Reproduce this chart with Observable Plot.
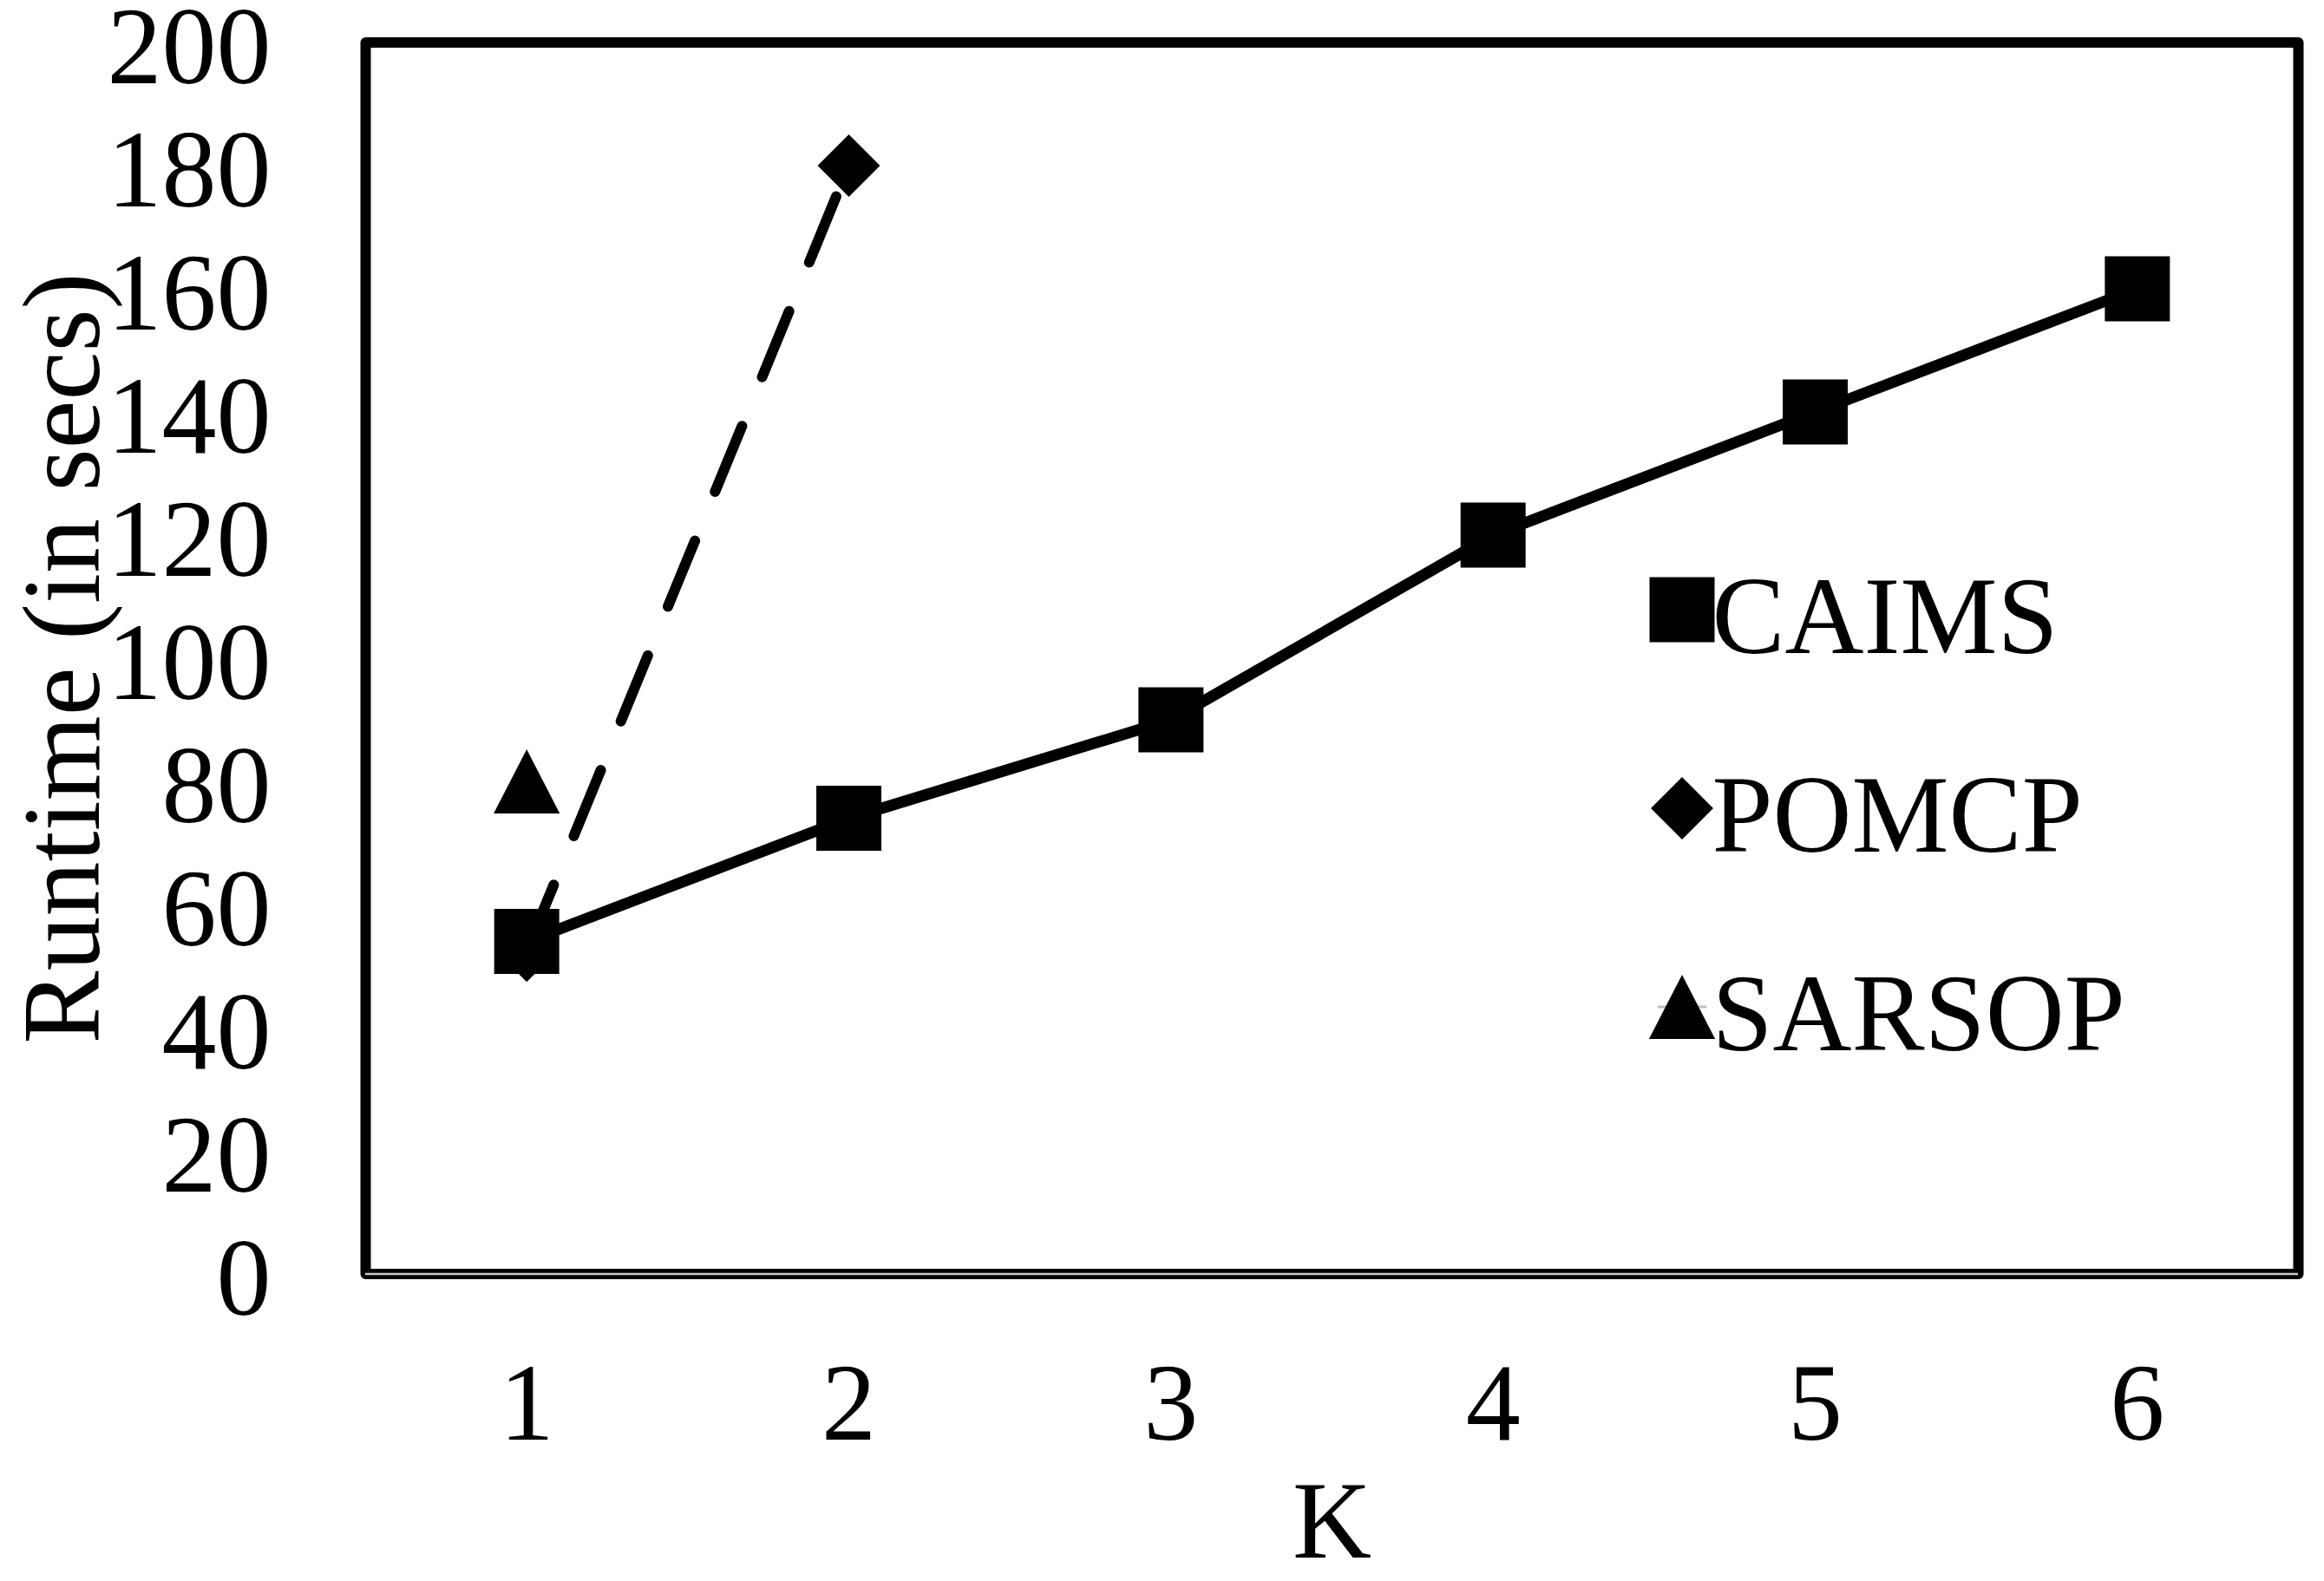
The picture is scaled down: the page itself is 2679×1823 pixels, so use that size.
<!DOCTYPE html>
<html>
<head>
<meta charset="utf-8">
<script src="https://cdn.jsdelivr.net/npm/d3@7"></script>
<script src="https://cdn.jsdelivr.net/npm/@observablehq/plot@0.6"></script>
<style>
  html, body { margin: 0; padding: 0; background: #ffffff; }
  #chart svg { display: block; }
</style>
</head>
<body>
<div id="chart"></div>
<script>
// ---- data ----
const kValues = [1, 2, 3, 4, 5, 6];
const caimsRuntime = [54, 74, 90, 120, 140, 160];
const pomcpK = [1, 2];
const pomcpRuntime = [52.5, 180];
const sarsopK = [1];
const sarsopRuntime = [80];
const yTicks = [0, 20, 40, 60, 80, 100, 120, 140, 160, 180, 200];
const seriesNames = ["CAIMS", "POMCP", "SARSOP"];
const xTitle = "K";
const yTitle = "Runtime (in secs)";

// tables built from the arrays
const caimsData = kValues.map((k, i) => ({k, v: caimsRuntime[i]}));
const pomcpData = pomcpK.map((k, i) => ({k, v: pomcpRuntime[i]}));
const sarsopData = sarsopK.map((k, i) => ({k, v: sarsopRuntime[i]}));

// custom symbols
const triangleSym = {
  draw(ctx, size) {
    const r = Math.sqrt(size / Math.PI);
    ctx.moveTo(0, -r);
    ctx.lineTo(r * 1.03, r);
    ctx.lineTo(-r * 1.03, r);
    ctx.closePath();
  }
};
const hlineSym = {
  draw(ctx, size) {
    const r = Math.sqrt(size / Math.PI);
    ctx.moveTo(-r, 0);
    ctx.lineTo(r, 0);
  }
};

const FONT = "'Liberation Serif', 'Times New Roman', Times, serif";
const FS = 126;

const W = 2679, H = 1823;
const mL = 421, mR = 30, mT = 48.5, mB = 354.5;

const legendSymbols = [
  {symbol: "square", r: 42.3},
  {symbol: "diamond2", r: 32.4},
  {symbol: triangleSym, r: 37}
];
const legMarkDx = 1517.5, legMarkDy = 654, legTextDx = 1552, legTextDy = 703.5, legStep = 229;

const legendMarks = [];
seriesNames.forEach((name, i) => {
  if (name === "SARSOP") {
    legendMarks.push(Plot.dot([name], {
      frameAnchor: "top-left", dx: legMarkDx, dy: legMarkDy + i * legStep,
      symbol: hlineSym, r: 28, stroke: "#bdbdbd", strokeWidth: 3, fill: "none"
    }));
  }
  legendMarks.push(Plot.dot([name], {
    frameAnchor: "top-left", dx: legMarkDx, dy: legMarkDy + i * legStep,
    symbol: legendSymbols[i].symbol, r: legendSymbols[i].r, fill: "black", stroke: "none"
  }));
  legendMarks.push(Plot.text([name], {
    frameAnchor: "top-left", text: d => d, textAnchor: "start", lineAnchor: "bottom",
    dx: legTextDx, dy: legTextDy + i * legStep, fontSize: FS, fill: "black"
  }));
});

const chart = Plot.plot({
  width: W,
  height: H,
  marginLeft: mL,
  marginRight: mR,
  marginTop: mT,
  marginBottom: mB,
  style: {fontFamily: FONT, fontSize: FS + "px", background: "white", color: "black", overflow: "visible"},
  x: {type: "linear", domain: [0.5, 6.5]},
  y: {type: "linear", domain: [0, 200]},
  marks: [
    Plot.frame({stroke: "black", strokeWidth: 12, strokeLinejoin: "round"}),
    Plot.ruleY([0], {stroke: "#c8c8c8", strokeWidth: 2.5}),
    Plot.axisY({
      ticks: yTicks, tickSize: 0, tickPadding: 109, dy: 7, fontSize: FS,
      label: yTitle, labelAnchor: "center", labelOffset: 397, labelArrow: "none"
    }),
    Plot.axisX({
      ticks: kValues, tickSize: 0, tickPadding: 102, fontSize: FS, tickFormat: d => String(d),
      label: xTitle, labelAnchor: "center", labelOffset: 327, labelArrow: "none"
    }),
    // POMCP (dashed, diamonds)
    Plot.line(pomcpData, {x: "k", y: "v", stroke: "black", strokeWidth: 12,
      strokeDasharray: "82,61", strokeLinecap: "round", strokeLinejoin: "round"}),
    Plot.dot(pomcpData, {x: "k", y: "v", symbol: "diamond2", r: 32.4, fill: "black", stroke: "none"}),
    // SARSOP (single triangle)
    Plot.dot(sarsopData, {x: "k", y: "v", symbol: triangleSym, r: 37, fill: "black", stroke: "none"}),
    // CAIMS (solid, squares)
    Plot.line(caimsData, {x: "k", y: "v", stroke: "black", strokeWidth: 13, strokeLinejoin: "round"}),
    Plot.dot(caimsData, {x: "k", y: "v", symbol: "square", r: 42.3, fill: "black", stroke: "none"}),
    ...legendMarks
  ]
});

document.getElementById("chart").appendChild(chart);
</script>
</body>
</html>
